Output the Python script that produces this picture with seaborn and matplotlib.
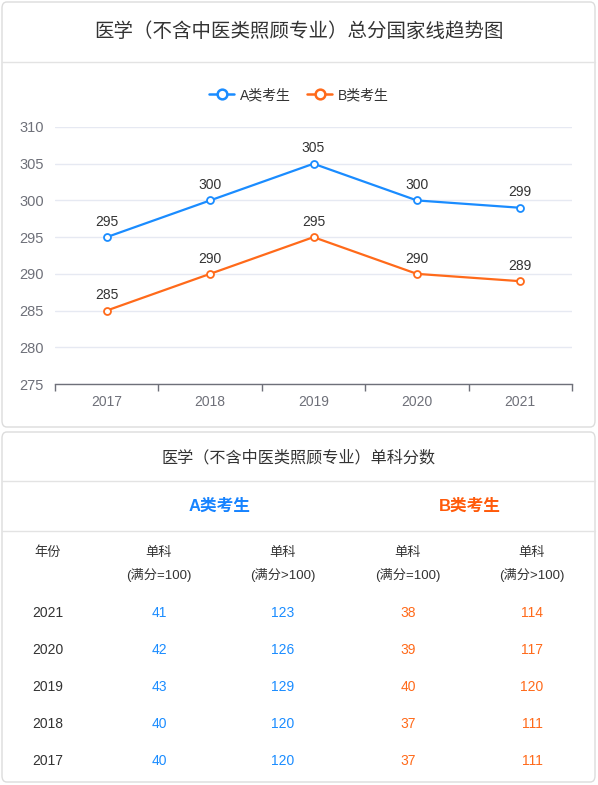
import matplotlib.pyplot as plt
import matplotlib.patches as patches
import seaborn as sns
import pandas as pd

sns.set_theme(style="white")
plt.rcParams['font.family'] = ['Liberation Sans', 'Noto Sans CJK SC', 'DejaVu Sans']
plt.rcParams['axes.unicode_minus'] = False

# data
years = ["2017", "2018", "2019", "2020", "2021"]
score_a = [295, 300, 305, 300, 299]
score_b = [285, 290, 295, 290, 289]
series_names = ["A类考生", "B类考生"]

table_years = ["2021", "2020", "2019", "2018", "2017"]
a_100 = [41, 42, 43, 40, 40]
a_over = [123, 126, 129, 120, 120]
b_100 = [38, 39, 40, 37, 37]
b_over = [114, 117, 120, 111, 111]

BLUE = "#1a8cff"
ORANGE = "#ff6a1a"
DARK = "#333333"
GRAY = "#6e7079"

W, H = 598, 785
fig = plt.figure(figsize=(W / 100, H / 100), dpi=100)
fig.patch.set_facecolor("white")


def fx(x):
    return x / W


def fy(y):
    return 1 - y / H


def card(x0, y0, x1, y1):
    p = patches.FancyBboxPatch((fx(x0), fy(y1)), fx(x1 - x0), (y1 - y0) / H,
                               boxstyle="round,pad=0,rounding_size=0.008",
                               transform=fig.transFigure, facecolor="white",
                               edgecolor="#dcdcdc", linewidth=1.0, zorder=-5)
    fig.patches.append(p)


def hline(y, x0, x1):
    fig.add_artist(plt.Line2D([fx(x0), fx(x1)], [fy(y), fy(y)],
                              transform=fig.transFigure, color="#e3e3e3", lw=1.0))


# ---- top card: line chart ----
card(2, 2, 595, 427)
fig.text(fx(299), fy(32), "医学（不含中医类照顾专业）总分国家线趋势图",
         ha="center", va="center", fontsize=14, color=DARK)
hline(62, 2, 595)

df = pd.DataFrame({
    "年份": years * 2,
    "分数": score_a + score_b,
    "类别": [series_names[0]] * 5 + [series_names[1]] * 5,
})

ax = fig.add_axes([fx(55), fy(384), fx(572) - fx(55), (384 - 127) / H], zorder=2)
ax.patch.set_visible(False)
sns.lineplot(data=df, x="年份", y="分数", hue="类别", palette=[BLUE, ORANGE],
             marker="o", markersize=5, markerfacecolor="white",
             markeredgewidth=1.3, linewidth=1.6, ax=ax, legend=False)
for line, c in zip(ax.lines, [BLUE, ORANGE]):
    line.set_markeredgecolor(c)

for vals in (score_a, score_b):
    for i, v in enumerate(vals):
        ax.annotate(str(v), (i, v), xytext=(0, 6), textcoords="offset points",
                    ha="center", va="bottom", fontsize=10, color=DARK)

ax.set_ylim(275, 310)
ax.set_yticks(range(275, 311, 5))
ax.set_xlim(-0.5, 4.5)
ax.set_xticks(range(5))
ax.set_xticklabels(years)
ax.set_xticks([i - 0.5 for i in range(6)], minor=True)
ax.tick_params(axis="x", which="major", bottom=False, length=0, pad=8,
               labelsize=10, labelcolor=GRAY)
ax.tick_params(axis="x", which="minor", bottom=True, length=5, color=GRAY,
               width=1, direction="out")
ax.tick_params(axis="y", left=False, length=0, pad=8, labelsize=10.5, labelcolor=GRAY)
ax.yaxis.grid(True, color="#e6e9f2", lw=1)
ax.set_axisbelow(True)
for s in ["top", "right", "left"]:
    ax.spines[s].set_visible(False)
ax.spines["bottom"].set_color(GRAY)
ax.spines["bottom"].set_linewidth(1)
ax.set_xlabel("")
ax.set_ylabel("")

handles = [plt.Line2D([], [], color=c, lw=1.8, marker="o", markersize=7,
                      markerfacecolor="white", markeredgewidth=1.8)
           for c in (BLUE, ORANGE)]
fig.legend(handles, series_names, loc="center", bbox_to_anchor=(fx(299), fy(95)),
           ncol=2, frameon=False, fontsize=10, handlelength=1.8, columnspacing=1.2,
           handletextpad=0.4, labelcolor=DARK)

# ---- bottom card: table ----
card(2, 432, 595, 782)
fig.text(fx(299), fy(458), "医学（不含中医类照顾专业）单科分数",
         ha="center", va="center", fontsize=11.6, color=DARK)
hline(481, 2, 595)
fig.text(fx(220), fy(506), "A类考生", ha="center", va="center",
         fontsize=12, color="#1683ff", fontweight="bold")
fig.text(fx(470), fy(506), "B类考生", ha="center", va="center",
         fontsize=12, color="#ff5a0a", fontweight="bold")
hline(531, 2, 595)

col_x = [48, 159, 283, 408, 532]
fig.text(fx(col_x[0]), fy(553), "年份", ha="center", va="center", fontsize=9.5, color=DARK)
for x, sub in zip(col_x[1:], ["(满分=100)", "(满分>100)", "(满分=100)", "(满分>100)"]):
    fig.text(fx(x), fy(553), "单科", ha="center", va="center", fontsize=9.5, color=DARK)
    fig.text(fx(x), fy(575), sub, ha="center", va="center", fontsize=9.5, color=DARK)

row_y = [613, 650, 687, 724, 761]
for r, y in enumerate(row_y):
    fig.text(fx(col_x[0]), fy(y), table_years[r], ha="center", va="center",
             fontsize=10, color=DARK)
    for x, vals, c in zip(col_x[1:], [a_100, a_over, b_100, b_over],
                          [BLUE, BLUE, ORANGE, ORANGE]):
        fig.text(fx(x), fy(y), str(vals[r]), ha="center", va="center",
                 fontsize=10, color=c)

fig.savefig("out.png", dpi=100)
